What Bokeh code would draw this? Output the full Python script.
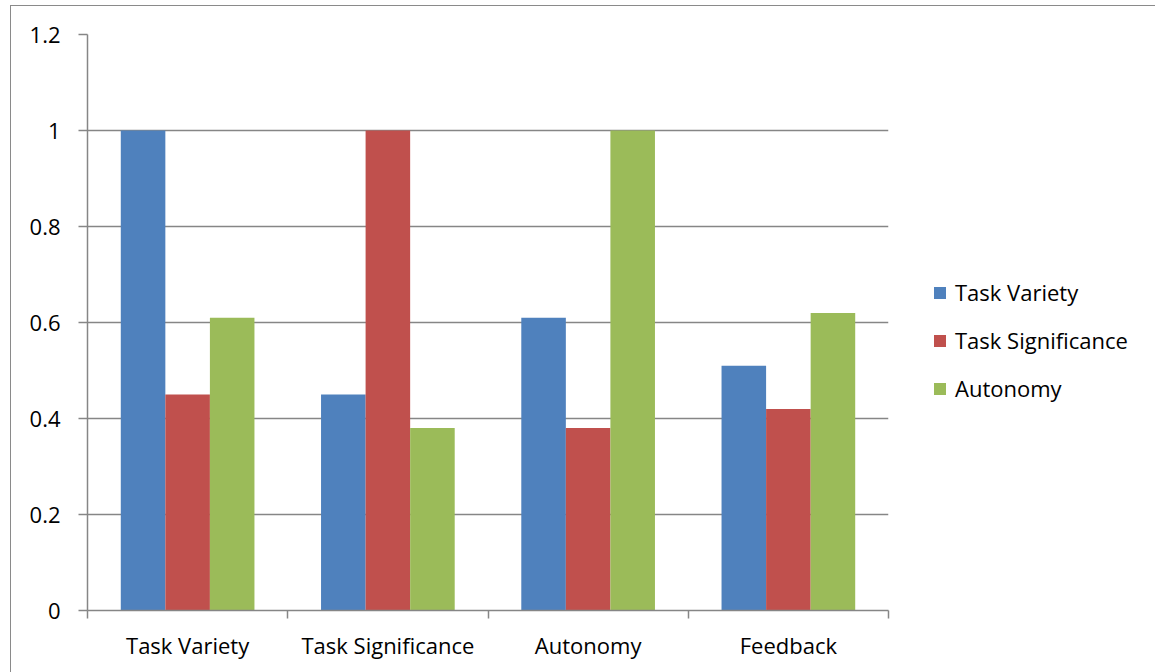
from bokeh.plotting import figure
from bokeh.models import Range1d, FixedTicker, Legend, LegendItem, CustomJSTickFormatter, ColumnDataSource
from bokeh.embed import file_html
from bokeh.resources import INLINE

categories = ["Task Variety", "Task Significance", "Autonomy", "Feedback"]
series_names = ["Task Variety", "Task Significance", "Autonomy"]
task_variety = [1.0, 0.45, 0.61, 0.51]
task_significance = [0.45, 1.0, 0.38, 0.42]
autonomy = [0.61, 0.38, 1.0, 0.62]
y_ticks = [0, 0.2, 0.4, 0.6, 0.8, 1.0, 1.2]

colors = ["#4F81BD", "#C0504D", "#9BBB59"]
grid_color = "#868686"
FONT = "Open Sans"
FSIZE = "22px"

centers = [i + 0.5 for i in range(len(categories))]
bar_w = 0.2225
offsets = [-bar_w, 0.0, bar_w]

p = figure(frame_width=801, frame_height=576, output_backend="svg", toolbar_location=None,
           x_range=Range1d(0, len(categories)), y_range=Range1d(0, 1.2),
           min_border_left=76, min_border_right=0, min_border_top=28, min_border_bottom=63)
p.margin = (5, 0, 0, 10)
p.styles = {"border-left": "1px solid #8a8a8a", "border-top": "1px solid #8a8a8a"}
p.outline_line_color = None
p.background_fill_color = "white"
p.border_fill_color = "white"

renderers = []
for vals, off, col in zip([task_variety, task_significance, autonomy], offsets, colors):
    src = ColumnDataSource(dict(x=[c + off for c in centers], top=vals))
    r = p.vbar(x="x", top="top", width=bar_w, bottom=0, source=src,
               fill_color=col, line_color=None)
    renderers.append(r)

# x axis
xa = p.xaxis[0]
xa.ticker = FixedTicker(ticks=centers, minor_ticks=list(range(len(categories) + 1)))
xa.major_label_overrides = {c: n for c, n in zip(centers, categories)}
xa.major_tick_line_color = None
xa.major_tick_out = 0
xa.major_tick_in = 0
xa.minor_tick_out = 8
xa.minor_tick_in = 0
xa.minor_tick_line_color = grid_color
xa.minor_tick_line_width = 1.5
xa.axis_line_color = grid_color
xa.axis_line_width = 1.5
xa.major_label_standoff = 11
xa.major_label_text_font = FONT
xa.major_label_text_font_size = FSIZE
xa.major_label_text_color = "black"

# y axis
ya = p.yaxis[0]
ya.ticker = FixedTicker(ticks=y_ticks)
ya.formatter = CustomJSTickFormatter(code="return String(Math.round(tick*10)/10);")
ya.major_tick_out = 9
ya.major_tick_in = 0
ya.minor_tick_line_color = None
ya.major_tick_line_color = grid_color
ya.major_tick_line_width = 1.5
ya.axis_line_color = grid_color
ya.axis_line_width = 1.5
ya.major_label_standoff = 18
ya.major_label_text_font = FONT
ya.major_label_text_font_size = FSIZE
ya.major_label_text_color = "black"

p.xgrid.grid_line_color = None
p.ygrid.ticker = FixedTicker(ticks=y_ticks)
p.ygrid.grid_line_color = grid_color
p.ygrid.grid_line_width = 1.5

legend = Legend(items=[LegendItem(label=n, renderers=[r]) for n, r in zip(series_names, renderers)],
                location=(44, 207))
legend.border_line_color = None
legend.background_fill_alpha = 0
legend.padding = 0
legend.margin = 0
legend.glyph_width = 15
legend.glyph_height = 15
legend.label_standoff = 8
legend.spacing = 18
legend.label_text_font = FONT
legend.label_text_font_size = FSIZE
legend.label_text_color = "black"
p.add_layout(legend, "right")

open("out.html", "w").write(file_html(p, INLINE))
